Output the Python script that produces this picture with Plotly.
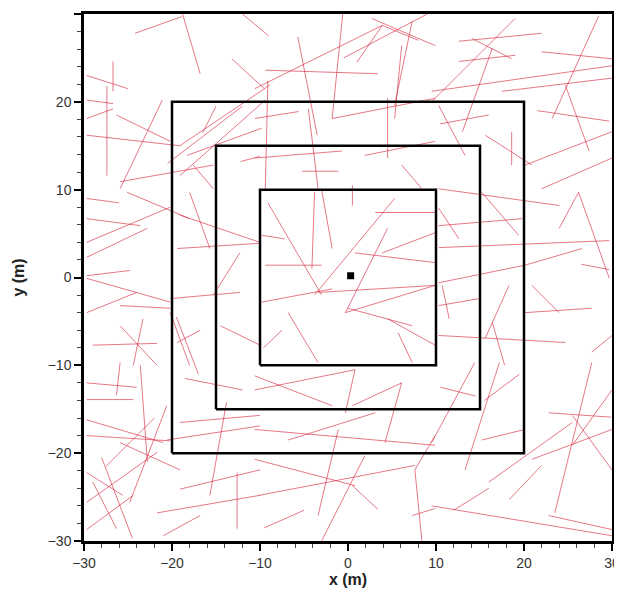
import plotly.graph_objects as go

# Fracture segments (x1, y1, x2, y2) in metres
fractures = [
    (-24.2, 27.8, -18.9, 29.7), (-18.8, 30.0, -16.8, 23.2), (-26.7, 24.6, -26.7, 21.2),
    (-27.4, 21.8, -27.4, 11.6), (-13.2, 24.9, -9.5, 21.5), (-26.3, 18.5, -20.2, 15.5),
    (-21.1, 20.2, -25.9, 10.1), (-29.7, 20.2, -26.7, 19.8), (-29.7, 18.1, -26.7, 19.2),
    (-29.7, 16.2, -19.1, 15.0), (-19.1, 15.0, -8.9, 21.9), (-19.1, 11.6, -9.4, 20.2),
    (-18.3, 13.9, -9.8, 17.0), (-25.9, 10.9, -15.3, 12.8), (-12.2, 13.2, -10.0, 13.8),
    (-17.6, 12.8, -15.3, 10.1), (-20.5, 13.0, -12.0, 19.5), (-29.7, 23.0, -25.0, 21.5),
    (-16.5, 16.5, -15.0, 19.5),
    (-12.0, 30.0, -9.0, 27.5), (-0.6, 30.0, -1.8, 18.1), (-5.7, 27.4, -3.5, 16.2),
    (-9.4, 23.6, 3.4, 23.2), (-10.6, 21.5, 3.9, 28.7), (2.7, 29.5, 9.9, 26.4),
    (7.3, 29.2, 5.3, 19.6), (-9.1, 22.4, -9.4, 10.1), (-4.5, 19.2, -3.4, 10.1),
    (-10.6, 13.6, -0.7, 14.4), (-1.8, 18.1, 9.9, 20.4), (4.5, 20.4, 4.5, 13.6),
    (1.9, 13.9, 9.9, 15.5), (6.1, 12.8, 8.4, 10.1), (-5.2, 12.1, -1.1, 12.1),
    (-0.5, 25.0, 9.0, 30.0), (6.1, 26.4, 5.3, 18.1), (-10.6, 18.1, -5.6, 18.9),
    (3.9, 28.7, 1.0, 24.5), (3.9, 28.7, 8.0, 27.0),
    (12.6, 26.9, 22.0, 27.8), (14.1, 27.2, 18.6, 24.9), (12.6, 24.6, 19.0, 25.3),
    (9.5, 21.2, 30.0, 24.1), (9.5, 20.0, 19.0, 29.5), (28.5, 29.8, 23.2, 18.1),
    (17.5, 21.2, 30.0, 22.7), (24.7, 21.9, 27.4, 14.4), (22.0, 25.7, 30.0, 24.9),
    (15.6, 16.2, 20.9, 12.8), (30.0, 16.6, 20.1, 12.8), (18.6, 16.6, 18.6, 12.8),
    (16.4, 26.1, 13.0, 16.6), (10.3, 19.6, 13.3, 13.9), (30.0, 13.6, 22.0, 10.1),
    (10.5, 17.5, 16.0, 18.5), (21.5, 19.0, 29.7, 17.8),
    (-29.7, 6.7, -23.6, 5.9), (-29.7, 4.0, -20.2, 8.0), (-29.7, 2.3, -22.8, 5.6),
    (-25.1, 9.7, -18.0, 6.7), (-19.1, 7.1, -10.0, 4.0), (-18.0, 9.7, -15.7, 3.3),
    (-19.4, 3.3, -10.0, 3.9), (-29.7, 0.2, -24.8, 0.8), (-29.7, -0.1, -20.2, -2.8),
    (-20.2, -2.4, -12.3, -1.7), (-29.7, -4.0, -24.0, -1.7), (-25.9, -3.2, -20.2, -3.5),
    (-12.3, 2.8, -15.3, -2.0), (-23.3, -4.7, -24.4, -10.0), (-29.0, -7.7, -21.7, -7.5),
    (-25.9, -5.5, -21.7, -10.0), (-19.4, -7.4, -16.8, -6.0), (-20.2, -4.0, -18.0, -10.0),
    (-14.5, -5.5, -10.0, -7.7), (-29.7, 9.0, -26.0, 8.5),
    (-9.1, 8.5, -3.0, -2.0), (-9.4, 1.4, -3.0, 1.4), (-3.8, 9.7, -4.1, 1.0),
    (-3.0, 10.0, -1.8, 3.3), (5.3, 9.0, -3.8, -2.0), (4.5, 5.6, -0.3, -4.0),
    (0.8, 2.8, 9.9, 1.7), (3.1, 7.4, 9.9, 7.4), (-9.8, -2.8, -1.8, -1.3),
    (-3.4, -1.7, 9.9, -0.9), (-0.3, -4.0, 9.9, -0.9), (-6.8, -4.0, -3.4, -9.7),
    (0.0, -3.5, 7.3, -5.5), (4.5, -4.7, 9.9, -7.7), (3.9, 2.8, 9.9, 5.1),
    (0.5, 10.5, 0.5, 8.2), (5.7, -6.3, 7.3, -9.7), (-9.8, 4.8, -7.2, 4.4),
    (-9.6, -8.0, -7.5, -6.0),
    (10.3, 10.1, 24.0, 8.2), (10.3, 3.4, 29.7, 4.2), (15.2, 9.7, 19.4, 4.8),
    (10.3, 7.9, 12.6, 4.4), (10.3, 5.9, 19.8, 6.7), (20.1, 1.4, 26.6, 3.3),
    (10.3, -0.6, 20.1, 1.4), (20.9, -0.9, 24.0, -4.0), (20.1, -4.0, 27.7, -3.5),
    (26.2, 9.7, 29.7, -0.1), (24.0, 5.6, 26.2, 9.7), (10.3, -6.6, 24.7, -7.4),
    (10.7, -0.9, 11.5, -4.7), (18.3, -0.9, 15.6, -6.9), (16.4, -5.1, 17.8, -10.0),
    (10.3, -3.2, 14.9, -2.4), (27.7, -8.5, 30.0, -6.6), (26.5, 1.5, 29.7, 0.9),
    (-29.7, -12.0, -24.0, -12.5), (-29.7, -13.9, -24.4, -13.9), (-25.9, -9.7, -26.3, -13.4),
    (-29.7, -16.2, -21.0, -18.8), (-29.7, -18.0, -20.2, -18.6), (-23.6, -10.0, -22.8, -21.0),
    (-20.6, -14.6, -24.8, -25.6), (-29.7, -22.2, -25.6, -24.8), (-19.1, -24.1, -10.0, -21.9),
    (-21.7, -26.8, -10.0, -24.8), (-21.0, -29.4, -16.8, -27.1), (-12.6, -22.2, -12.6, -28.6),
    (-13.8, -14.2, -15.7, -24.8), (-29.0, -23.3, -26.3, -28.6), (-19.1, -16.5, -10.0, -15.7),
    (-20.6, -18.5, -10.0, -16.9), (-25.9, -18.8, -19.1, -21.9), (-29.7, -28.7, -24.4, -24.8),
    (-29.7, -25.6, -21.7, -19.9), (-28.0, -20.5, -24.5, -29.7), (-27.5, -21.5, -22.0, -16.0),
    (-18.5, -11.5, -12.0, -12.8), (-17.0, -11.0, -19.5, -4.5),
    (-10.6, -12.8, 0.8, -10.5), (-10.6, -11.2, -1.8, -14.6), (0.8, -10.5, -0.3, -15.4),
    (0.5, -14.6, 6.1, -12.0), (6.1, -12.0, 4.2, -18.8), (-10.6, -17.3, 9.9, -19.1),
    (-6.8, -18.5, 3.1, -15.4), (-10.6, -20.7, 0.8, -23.7), (-10.1, -24.8, 7.6, -21.4),
    (1.9, -20.3, -3.0, -30.0), (-1.1, -17.3, -3.4, -27.1), (0.5, -23.7, 3.4, -26.4),
    (9.9, -18.0, 7.6, -21.9), (7.6, -21.9, 8.4, -30.0), (7.3, -27.1, 9.9, -26.3),
    (-9.5, -28.5, -5.0, -26.5),
    (9.5, -18.8, 14.4, -9.7), (13.3, -21.9, 17.2, -9.7), (22.8, -15.4, 29.9, -15.9),
    (16.0, -23.3, 25.5, -16.5), (27.7, -9.7, 23.5, -26.8), (25.5, -15.7, 30.0, -21.9),
    (9.5, -26.0, 30.0, -29.4), (15.2, -18.5, 20.1, -17.3), (22.8, -27.1, 30.0, -28.7),
    (20.9, -20.7, 30.0, -17.3), (18.3, -25.3, 22.0, -21.4), (25.5, -19.1, 30.0, -12.8),
    (10.5, -12.5, 14.5, -13.5), (15.5, -14.0, 19.5, -11.0), (12.0, -26.5, 16.0, -24.0),
]

# Nested observation squares (half side, metres) and well location
square_half_sides = [10, 15, 20]
well_x = [0.3]
well_y = [0.2]

x_ticks = [-30, -20, -10, 0, 10, 20, 30]
y_ticks = [-30, -20, -10, 0, 10, 20, 30]

fx, fy = [], []
for x1, y1, x2, y2 in fractures:
    fx += [x1, x2, None]
    fy += [y1, y2, None]

fig = go.Figure()
fig.add_trace(go.Scatter(
    x=fx, y=fy, mode="lines",
    line=dict(color="rgba(215,40,60,0.7)", width=0.9),
    hoverinfo="skip", showlegend=False))

for h in square_half_sides:
    fig.add_trace(go.Scatter(
        x=[-h, h, h, -h, -h], y=[-h, -h, h, h, -h], mode="lines",
        line=dict(color="black", width=2.5), showlegend=False, hoverinfo="skip"))

fig.add_trace(go.Scatter(
    x=well_x, y=well_y, mode="markers",
    marker=dict(symbol="square", size=7, color="black"),
    showlegend=False))

font_family = "Liberation Sans, Arial, sans-serif"
axis_common = dict(
    range=[-30, 30], showgrid=False, zeroline=False, automargin=False,
    showline=True, linecolor="black", linewidth=2.5, mirror=True,
    ticks="outside", ticklen=7, tickwidth=1.5, tickcolor="black",
    minor=dict(ticks="outside", ticklen=4, dtick=2, tickcolor="#444", tickwidth=1),
    tickfont=dict(family=font_family, size=14, color="#333"),
)

# page body has an 8px margin, so the figure is sized to fit the 622x599 window
fig.update_layout(
    width=614, height=583,
    margin=dict(l=76, r=10, t=6, b=50),
    plot_bgcolor="white", paper_bgcolor="white",
    xaxis=dict(**axis_common, tickvals=x_ticks,
               title=dict(text="<b>x (m)</b>", standoff=2,
                          font=dict(family=font_family, size=16, color="#222"))),
    yaxis=dict(**axis_common, tickvals=y_ticks,
               title=dict(text="<b>y (m)</b>", standoff=20,
                          font=dict(family=font_family, size=16, color="#222"))),
)

fig.write_html("out.html")
